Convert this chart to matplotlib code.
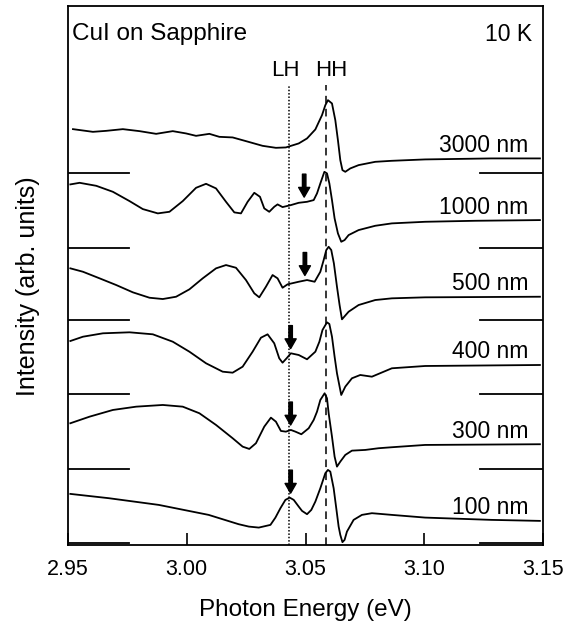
import numpy as np
import matplotlib
matplotlib.use('Agg')
import matplotlib.pyplot as plt

plt.rcParams['font.family'] = ['Liberation Sans', 'DejaVu Sans']

#------------------------------------------------
# spectra: photon energy (eV) and intensity (arb. units)
labels = ['3000 nm', '1000 nm', '500 nm', '400 nm', '300 nm', '100 nm']
offsets = [37.0, 29.5, 22.3, 14.9, 7.4, 0.0]

e_3000 = [2.9521, 2.9605, 2.9661, 2.9731, 2.9801, 2.9871, 2.9941, 2.9997, 3.0039,
          3.0095, 3.0137, 3.0193, 3.0249, 3.0319, 3.0375, 3.0417, 3.0471, 3.0506,
          3.0541, 3.0569, 3.0583, 3.0594, 3.0611, 3.0625, 3.0636, 3.0646, 3.0655,
          3.0667, 3.0688, 3.0723, 3.0793, 3.0861, 3.1003, 3.1282, 3.1486]
i_3000 = [4.4, 4.13, 4.23, 4.4, 4.2, 3.93, 4.2, 3.97, 3.73,
          3.93, 3.63, 3.57, 3.2, 2.73, 2.53, 2.57, 2.97, 3.47,
          4.37, 5.8, 6.8, 7.3, 6.97, 5.3, 3.3, 1.3, 0.3,
          0.13, 0.47, 0.8, 1.13, 1.23, 1.37, 1.47, 1.47]

e_1000 = [2.951, 2.9549, 2.9619, 2.9689, 2.9759, 2.9815, 2.9878, 2.9927, 2.9983,
          3.0039, 3.0081, 3.0123, 3.0165, 3.0200, 3.0228, 3.0256, 3.0284, 3.0308,
          3.0326, 3.0347, 3.0368, 3.0382, 3.0403, 3.0438, 3.0471, 3.0506, 3.0534,
          3.0548, 3.0562, 3.0579, 3.0590, 3.0600, 3.0611, 3.0622, 3.0636, 3.0650,
          3.0664, 3.0681, 3.0723, 3.0793, 3.0863, 3.1003, 3.1213, 3.1486]
i_1000 = [6.37, 6.53, 6.23, 5.63, 4.7, 3.9, 3.47, 3.63, 4.7,
          6.03, 6.43, 5.97, 4.63, 3.57, 3.47, 4.63, 5.53, 5.13,
          3.97, 3.63, 4.13, 4.37, 4.1, 4.3, 4.53, 4.63, 4.8,
          5.47, 6.47, 7.63, 7.47, 6.47, 4.8, 2.97, 1.47, 0.63,
          0.8, 1.3, 1.8, 2.23, 2.47, 2.63, 2.73, 2.8]

e_500 = [2.951, 2.9563, 2.9633, 2.9703, 2.9773, 2.9843, 2.9899, 2.9955, 3.0011,
         3.0067, 3.0123, 3.0165, 3.0207, 3.0249, 3.0284, 3.0305, 3.0333, 3.0361,
         3.0382, 3.0403, 3.0424, 3.0471, 3.0506, 3.0538, 3.0562, 3.0576, 3.0587,
         3.0597, 3.0608, 3.0619, 3.0632, 3.0643, 3.0653, 3.0681, 3.0723, 3.0793,
         3.0863, 3.1003, 3.1486]
i_500 = [5.17, 4.83, 4.17, 3.5, 2.77, 2.23, 2.1, 2.33, 3.07,
         4.17, 5.17, 5.5, 5.23, 4.0, 2.67, 2.27, 3.33, 4.5,
         4.17, 3.23, 3.57, 3.83, 4.0, 3.83, 4.83, 6.0, 7.0,
         7.33, 7.0, 5.67, 3.33, 1.5, 0.07, 0.83, 1.5, 2.0,
         2.17, 2.27, 2.33]

e_400 = [2.951, 2.9563, 2.9647, 2.9759, 2.9857, 2.9941, 3.0011, 3.0081, 3.0151,
         3.0193, 3.0235, 3.0277, 3.0312, 3.0340, 3.0368, 3.0389, 3.0403, 3.0420,
         3.0438, 3.0471, 3.0506, 3.0541, 3.0558, 3.0571, 3.0590, 3.0600, 3.0611,
         3.0622, 3.0632, 3.0650, 3.0667, 3.0695, 3.0730, 3.0779, 3.0863, 3.1003,
         3.1486]
i_400 = [5.3, 5.73, 6.07, 6.17, 5.97, 5.23, 4.23, 3.07, 2.23,
         2.13, 2.73, 4.23, 5.63, 5.97, 5.07, 3.57, 3.13, 3.57,
         4.07, 3.9, 3.47, 4.23, 5.23, 6.4, 7.17, 7.0, 5.73,
         3.73, 2.07, -0.1, 0.73, 1.57, 1.9, 1.73, 2.57, 2.8,
         2.9]

e_300 = [2.951, 2.9591, 2.9689, 2.9787, 2.9899, 2.9983, 3.0053, 3.0123, 3.0193,
         3.0235, 3.0263, 3.0291, 3.0326, 3.0354, 3.0375, 3.0396, 3.0417, 3.0438,
         3.0457, 3.0482, 3.0513, 3.0534, 3.0548, 3.0562, 3.0580, 3.0590, 3.0597,
         3.0611, 3.0622, 3.0632, 3.0646, 3.0667, 3.0695, 3.0751, 3.0807, 3.0863,
         3.1003, 3.1486]
i_300 = [4.57, 5.23, 5.9, 6.23, 6.4, 6.23, 5.57, 4.4, 3.07,
         2.23, 2.0, 2.57, 4.23, 5.13, 4.73, 3.8, 3.73, 3.9,
         3.73, 3.47, 4.07, 4.9, 5.73, 6.9, 7.57, 7.07, 5.57,
         3.23, 1.23, 0.23, 0.73, 1.4, 1.83, 1.9, 2.07, 2.17,
         2.4, 2.47]

e_100 = [2.951, 2.9672, 2.9882, 3.0092, 3.0218, 3.0261, 3.0303, 3.0352, 3.0373,
         3.0394, 3.0415, 3.0433, 3.0450, 3.0471, 3.0485, 3.0506, 3.0524, 3.0541,
         3.0562, 3.0583, 3.0594, 3.0604, 3.0618, 3.0629, 3.0639, 3.0646, 3.0655,
         3.0664, 3.0674, 3.0702, 3.0737, 3.0779, 3.0863, 3.1003, 3.1283, 3.1486]
i_100 = [4.9, 4.47, 3.8, 2.8, 1.87, 1.63, 1.53, 1.8, 2.53,
         3.47, 4.3, 4.53, 4.3, 3.63, 3.2, 2.87, 3.3, 4.13,
         5.47, 6.97, 7.3, 7.13, 5.47, 3.47, 1.63, 0.8, 0.07,
         0.3, 1.13, 2.3, 2.8, 2.97, 2.8, 2.53, 2.3, 2.2]

energies = [e_3000, e_1000, e_500, e_400, e_300, e_100]
intensities = [i_3000, i_1000, i_500, i_400, i_300, i_100]

# arrow energies (None = no arrow)
arrow_e = [None, 3.0494, 3.0497, 3.0437, 3.0437, 3.0437]

E_LH = 3.043
E_HH = 3.0587

#------------------------------------------------
fig = plt.figure(figsize=(5.81, 6.22), dpi=100)
ax = fig.add_axes([0.117, 0.124, 0.818, 0.866])

for k in range(len(labels)):
    e = np.array(energies[k])
    y = np.array(intensities[k]) + offsets[k]
    ax.plot(e, y, color='black', lw=1.3, solid_joinstyle='round')
    # zero markers at both edges
    ax.plot([2.95, 2.9756], [offsets[k], offsets[k]], color='black', lw=1.3)
    ax.plot([3.1235, 3.15], [offsets[k], offsets[k]], color='black', lw=1.3)
    ax.text(3.1437, y[-1] + 1.3, labels[k], ha='right', va='center', fontsize=16.5)
    if arrow_e[k] is not None:
        tip = np.interp(arrow_e[k], e, y) + 0.5
        ax.annotate('', xy=(arrow_e[k], tip), xytext=(arrow_e[k], tip + 2.3),
                    arrowprops=dict(facecolor='black', edgecolor='black',
                                    width=2.5, headwidth=8, headlength=7, shrink=0))

ax.plot([E_LH, E_LH], [-0.2, 45.8], color='black', lw=1.1, ls=(0, (1, 1.2)))
ax.plot([E_HH, E_HH], [-0.2, 45.8], color='black', lw=1.1, ls=(0, (5, 3.5)))
ax.text(3.0415, 47.3, 'LH', ha='center', va='center', fontsize=16)
ax.text(3.0606, 47.3, 'HH', ha='center', va='center', fontsize=16)

ax.text(0.008, 0.948, 'CuI on Sapphire', transform=ax.transAxes, ha='left', va='center', fontsize=17.5)
ax.text(0.976, 0.948, '10 K', transform=ax.transAxes, ha='right', va='center', fontsize=16.5)

ax.set_xlim(2.95, 3.15)
ax.set_ylim(-0.2, 53.7)
ax.set_xticks([2.95, 3.00, 3.05, 3.10, 3.15])
ax.set_xticklabels(['2.95', '3.00', '3.05', '3.10', '3.15'])
ax.set_yticks([])
ax.tick_params(axis='x', direction='in', length=9, width=1.2, labelsize=15.5, pad=10)
for s in ax.spines.values():
    s.set_linewidth(1.3)

ax.set_xlabel('Photon Energy (eV)', fontsize=17.5, labelpad=14)
ax.set_ylabel('Intensity (arb. units)', fontsize=18)
ax.yaxis.set_label_coords(-0.059, 0.48)

plt.savefig('out.png', dpi=100)
